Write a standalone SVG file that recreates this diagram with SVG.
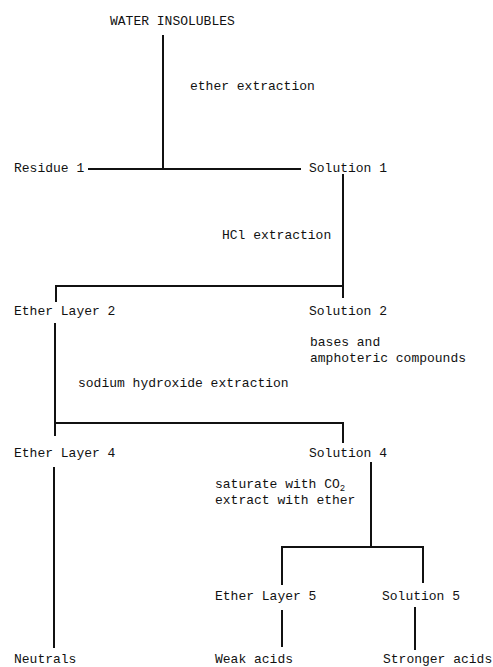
<svg xmlns="http://www.w3.org/2000/svg" width="493" height="667" viewBox="0 0 493 667">
<style>
text { font-family: "Liberation Mono", "DejaVu Sans Mono", monospace; font-size: 13px; fill: #111; }
.sub { font-size: 9px; }
.c { stroke: #111; stroke-width: 2; fill: none; stroke-linecap: butt; }
</style>
<rect width="493" height="667" fill="#fff"/>
<g id="connectors">
  <path class="c" d="M163,35 V169"/>
  <path class="c" d="M88,169 H301"/>
  <path class="c" d="M343,174 V298"/>
  <path class="c" d="M56,302 V286 H343"/>
  <path class="c" d="M55,323 V436"/>
  <path class="c" d="M55,423 H343 V443"/>
  <path class="c" d="M54,467 V648"/>
  <path class="c" d="M371,462 V546"/>
  <path class="c" d="M282,585 V547 H423 V583"/>
  <path class="c" d="M282,610 V647"/>
  <path class="c" d="M415,607 V650"/>
</g>
<g id="water-insolubles"><text x="110" y="25">WATER INSOLUBLES</text></g>
<g id="label-ether-extraction"><text x="190" y="90">ether extraction</text></g>
<g id="residue-1"><text x="14" y="172">Residue 1</text></g>
<g id="solution-1"><text x="309" y="172">Solution 1</text></g>
<g id="label-hcl"><text x="222" y="239">HCl extraction</text></g>
<g id="ether-layer-2"><text x="14" y="315">Ether Layer 2</text></g>
<g id="solution-2"><text x="309" y="315">Solution 2</text></g>
<g id="label-bases"><text x="310" y="346">bases and</text><text x="310" y="362">amphoteric compounds</text></g>
<g id="label-naoh"><text x="78" y="387">sodium hydroxide extraction</text></g>
<g id="ether-layer-4"><text x="14" y="457">Ether Layer 4</text></g>
<g id="solution-4"><text x="309" y="457">Solution 4</text></g>
<g id="label-co2"><text x="215" y="488">saturate with CO<tspan class="sub" dy="3">2</tspan></text><text x="215" y="504">extract with ether</text></g>
<g id="ether-layer-5"><text x="215" y="600">Ether Layer 5</text></g>
<g id="solution-5"><text x="382" y="600">Solution 5</text></g>
<g id="neutrals"><text x="14" y="663">Neutrals</text></g>
<g id="weak-acids"><text x="215" y="663">Weak acids</text></g>
<g id="stronger-acids"><text x="383" y="663">Stronger acids</text></g>
</svg>
